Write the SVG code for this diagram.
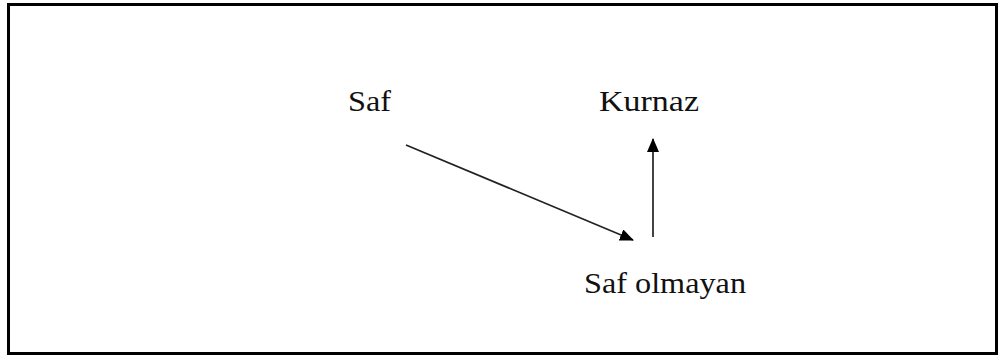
<svg xmlns="http://www.w3.org/2000/svg" width="1005" height="356" viewBox="0 0 1005 356">
  <style>
    .lbl { font-family: "Liberation Serif", "Times New Roman", serif; font-size: 30px; fill: #111; }
    .edge { stroke: #222; stroke-width: 1.7; fill: none; }
  </style>
  <defs>
    <marker id="arrow" viewBox="0 0 14 12" refX="13" refY="6" markerWidth="14" markerHeight="12" markerUnits="userSpaceOnUse" orient="auto">
      <path d="M0,0 L14,6 L0,12 Z" fill="#000"/>
    </marker>
  </defs>
  <rect x="0" y="0" width="1005" height="356" fill="#fff"/>
  <rect x="8.5" y="4.5" width="988" height="349" fill="none" stroke="#000" stroke-width="3"/>

  <g id="node-saf">
    <text class="lbl" x="348" y="111" textLength="43" lengthAdjust="spacingAndGlyphs">Saf</text>
  </g>
  <g id="node-kurnaz">
    <text class="lbl" x="599" y="111" textLength="100" lengthAdjust="spacingAndGlyphs">Kurnaz</text>
  </g>
  <g id="node-saf-olmayan">
    <text class="lbl" x="584" y="293" textLength="162" lengthAdjust="spacingAndGlyphs">Saf olmayan</text>
  </g>

  <g id="connectors">
    <line class="edge" x1="406" y1="145" x2="633" y2="240" marker-end="url(#arrow)"/>
    <line class="edge" x1="653" y1="237" x2="653" y2="139" marker-end="url(#arrow)" stroke="#555"/>
  </g>
</svg>
